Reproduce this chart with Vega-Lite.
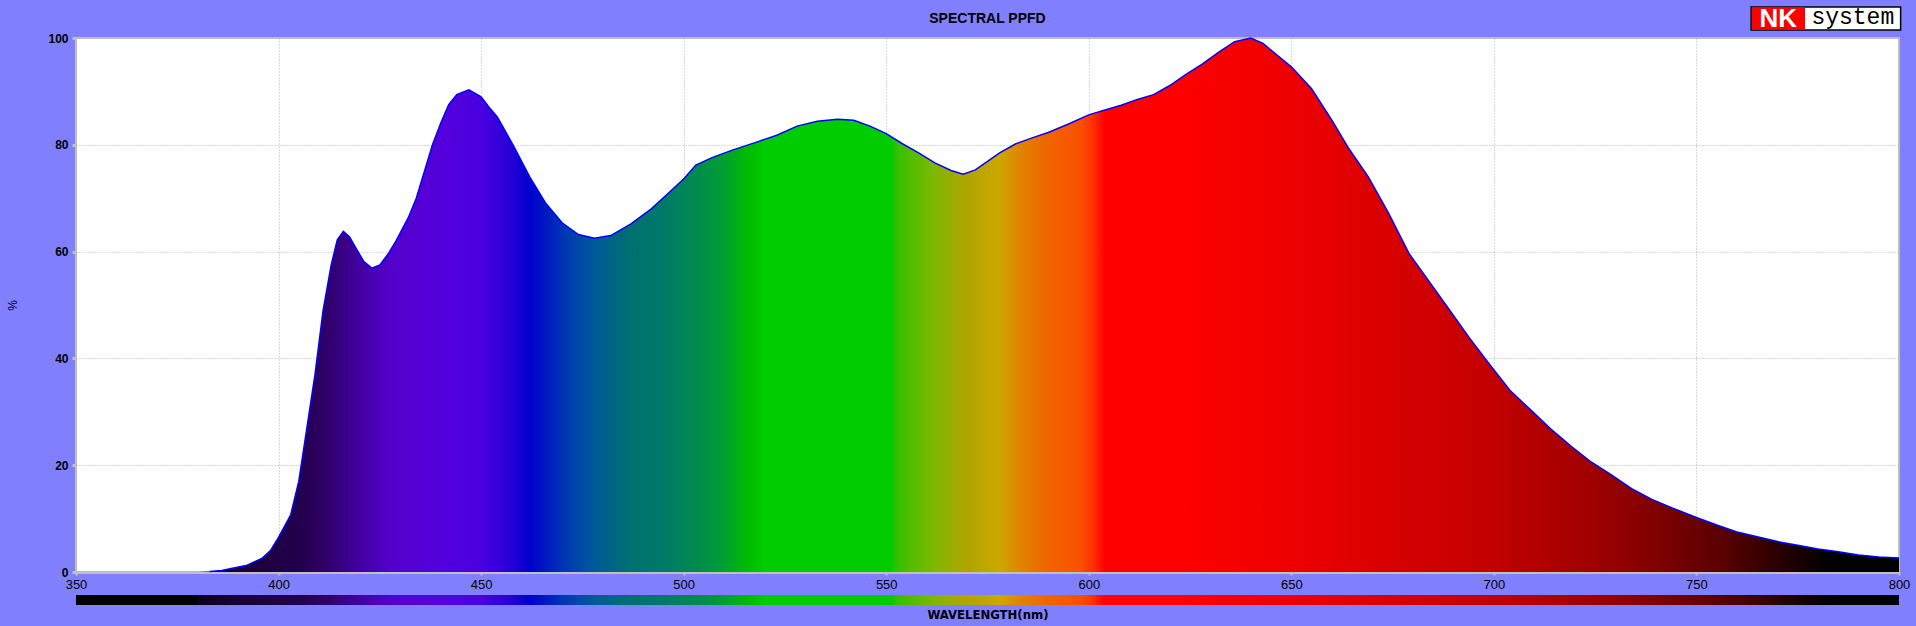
{
  "$schema": "https://vega.github.io/schema/vega-lite/v6.json",
  "background": "#8080ff",
  "padding": {"left": 5, "top": 4, "right": 6, "bottom": 4},
  "autosize": {"type": "pad"},
  "spacing": 2,
  "config": {"view": {"stroke": "#c0c0c0", "strokeWidth": 2, "fill": "#ffffff"}},
  "datasets": {
    "spectrum": [
      {"wl": 350, "pct": 0}, {"wl": 375, "pct": 0}, {"wl": 380, "pct": 0}, {"wl": 383, "pct": 0.1},
      {"wl": 386, "pct": 0.3}, {"wl": 388, "pct": 0.6}, {"wl": 392, "pct": 1.2}, {"wl": 396, "pct": 2.6},
      {"wl": 398, "pct": 4}, {"wl": 400, "pct": 6.5}, {"wl": 403, "pct": 10.7}, {"wl": 405, "pct": 17},
      {"wl": 407, "pct": 27}, {"wl": 409, "pct": 37}, {"wl": 411, "pct": 49}, {"wl": 413, "pct": 57.5},
      {"wl": 414.5, "pct": 62.2}, {"wl": 416, "pct": 63.8}, {"wl": 417.5, "pct": 62.8}, {"wl": 419, "pct": 60.8},
      {"wl": 421, "pct": 58.2}, {"wl": 423, "pct": 56.9}, {"wl": 425, "pct": 57.5}, {"wl": 427, "pct": 59.5},
      {"wl": 429, "pct": 62}, {"wl": 432, "pct": 66.3}, {"wl": 434, "pct": 70}, {"wl": 436, "pct": 75},
      {"wl": 438, "pct": 80}, {"wl": 440, "pct": 84}, {"wl": 442, "pct": 87.5}, {"wl": 444, "pct": 89.4},
      {"wl": 447, "pct": 90.3}, {"wl": 450, "pct": 89}, {"wl": 452, "pct": 87}, {"wl": 454, "pct": 85.2},
      {"wl": 458, "pct": 79.8}, {"wl": 462, "pct": 74}, {"wl": 466, "pct": 69}, {"wl": 470, "pct": 65.4},
      {"wl": 474, "pct": 63.2}, {"wl": 478, "pct": 62.5}, {"wl": 482, "pct": 63}, {"wl": 487, "pct": 65.2},
      {"wl": 492, "pct": 68}, {"wl": 496, "pct": 70.8}, {"wl": 500, "pct": 73.6}, {"wl": 503, "pct": 76.2},
      {"wl": 507, "pct": 77.6}, {"wl": 512, "pct": 79}, {"wl": 518, "pct": 80.5}, {"wl": 523, "pct": 81.8},
      {"wl": 528, "pct": 83.5}, {"wl": 533, "pct": 84.4}, {"wl": 538, "pct": 84.8}, {"wl": 542, "pct": 84.6},
      {"wl": 546, "pct": 83.5}, {"wl": 550, "pct": 82.1}, {"wl": 554, "pct": 80.2}, {"wl": 558, "pct": 78.5},
      {"wl": 562, "pct": 76.6}, {"wl": 566, "pct": 75.2}, {"wl": 569, "pct": 74.5}, {"wl": 572, "pct": 75.3},
      {"wl": 575, "pct": 76.9}, {"wl": 578, "pct": 78.5}, {"wl": 582, "pct": 80.2}, {"wl": 586, "pct": 81.3},
      {"wl": 590, "pct": 82.3}, {"wl": 595, "pct": 83.9}, {"wl": 600, "pct": 85.6}, {"wl": 604, "pct": 86.5},
      {"wl": 608, "pct": 87.4}, {"wl": 612, "pct": 88.5}, {"wl": 616, "pct": 89.4}, {"wl": 620, "pct": 91.1},
      {"wl": 624, "pct": 93.2}, {"wl": 628, "pct": 95.1}, {"wl": 632, "pct": 97.3}, {"wl": 636, "pct": 99.3},
      {"wl": 640, "pct": 100}, {"wl": 643, "pct": 99}, {"wl": 646, "pct": 97.1}, {"wl": 650, "pct": 94.6},
      {"wl": 655, "pct": 90.5}, {"wl": 660, "pct": 84.6}, {"wl": 664, "pct": 79.5}, {"wl": 669, "pct": 74},
      {"wl": 674, "pct": 67.2}, {"wl": 679, "pct": 59.7}, {"wl": 684, "pct": 54.4}, {"wl": 689, "pct": 49.1},
      {"wl": 694, "pct": 43.8}, {"wl": 699, "pct": 38.8}, {"wl": 704, "pct": 34}, {"wl": 709, "pct": 30.4},
      {"wl": 714, "pct": 26.8}, {"wl": 719, "pct": 23.6}, {"wl": 724, "pct": 20.6}, {"wl": 729, "pct": 18.2},
      {"wl": 734, "pct": 15.6}, {"wl": 739, "pct": 13.6}, {"wl": 744, "pct": 12}, {"wl": 750, "pct": 10.2},
      {"wl": 755, "pct": 8.8}, {"wl": 760, "pct": 7.5}, {"wl": 765, "pct": 6.6}, {"wl": 770, "pct": 5.7},
      {"wl": 775, "pct": 5}, {"wl": 780, "pct": 4.3}, {"wl": 785, "pct": 3.8}, {"wl": 790, "pct": 3.2},
      {"wl": 795, "pct": 2.8}, {"wl": 800, "pct": 2.6}
    ]
  },
  "vconcat": [
    {
      "width": 1823,
      "height": 534,
      "title": {"text": "SPECTRAL PPFD", "font": "Liberation Sans", "fontSize": 14, "fontWeight": "bold", "color": "#000000", "anchor": "middle", "frame": "group", "offset": 10, "dy": 30},
      "layer": [
        {
          "data": {"name": "spectrum"},
          "mark": {
            "type": "area",
            "interpolate": "linear",
            "fillOpacity": 1,
            "fill": {
              "gradient": "linear", "x1": 0, "y1": 0, "x2": 1, "y2": 0,
              "stops": [
                {"offset": 0, "color": "#000000"},
                {"offset": 0.0667, "color": "#050010"},
                {"offset": 0.0889, "color": "#1a0038"},
                {"offset": 0.1222, "color": "#22004c"},
                {"offset": 0.1378, "color": "#300068"},
                {"offset": 0.1556, "color": "#4200a0"},
                {"offset": 0.1733, "color": "#5400cc"},
                {"offset": 0.2, "color": "#5400dc"},
                {"offset": 0.2222, "color": "#4a00e0"},
                {"offset": 0.2378, "color": "#2800d8"},
                {"offset": 0.2489, "color": "#0000cc"},
                {"offset": 0.2667, "color": "#0034b4"},
                {"offset": 0.2844, "color": "#005a98"},
                {"offset": 0.3044, "color": "#007070"},
                {"offset": 0.3222, "color": "#007a68"},
                {"offset": 0.3422, "color": "#008c4c"},
                {"offset": 0.3556, "color": "#00a030"},
                {"offset": 0.3689, "color": "#00bc00"},
                {"offset": 0.3778, "color": "#00cc00"},
                {"offset": 0.4467, "color": "#00cc00"},
                {"offset": 0.4511, "color": "#38c000"},
                {"offset": 0.4711, "color": "#80b800"},
                {"offset": 0.4889, "color": "#b0a400"},
                {"offset": 0.5067, "color": "#cca800"},
                {"offset": 0.5178, "color": "#e08400"},
                {"offset": 0.5333, "color": "#f06400"},
                {"offset": 0.5511, "color": "#fa5000"},
                {"offset": 0.5578, "color": "#ff3000"},
                {"offset": 0.5644, "color": "#ff0000"},
                {"offset": 0.6, "color": "#ff0000"},
                {"offset": 0.6667, "color": "#ee0000"},
                {"offset": 0.7778, "color": "#c20000"},
                {"offset": 0.8311, "color": "#a00000"},
                {"offset": 0.8667, "color": "#800000"},
                {"offset": 0.9044, "color": "#580000"},
                {"offset": 0.94, "color": "#200000"},
                {"offset": 0.9622, "color": "#000000"},
                {"offset": 1, "color": "#000000"}
              ]
            }
          },
          "encoding": {
            "x": {
              "field": "wl", "type": "quantitative",
              "scale": {"domain": [350, 800], "nice": false, "zero": false},
              "axis": {
                "title": null, "values": [350, 400, 450, 500, 550, 600, 650, 700, 750, 800],
                "labelFont": "Liberation Sans", "labelFontSize": 13, "labelColor": "#000000", "labelFlush": false,
                "labelPadding": 3, "tickSize": 3, "tickWidth": 2, "tickColor": "#c0c0c0",
                "domain": true, "domainColor": "#c0c0c0", "domainWidth": 3,
                "grid": true, "gridColor": "#b0b0b0", "gridDash": [1, 2], "gridWidth": 1
              }
            },
            "y": {
              "field": "pct", "type": "quantitative",
              "scale": {"domain": [0, 100], "nice": false},
              "axis": {
                "title": "%", "titleFont": "Liberation Sans", "titleFontSize": 12, "titleFontWeight": "normal", "titleColor": "#000000",
                "titlePadding": 29, "minExtent": 28, "maxExtent": 28,
                "values": [0, 20, 40, 60, 80, 100],
                "labelFont": "Liberation Sans", "labelFontSize": 12, "labelFontWeight": "bold", "labelColor": "#000000",
                "labelPadding": 4, "tickSize": 4, "tickWidth": 3, "tickColor": "#c0c0c0",
                "domain": false,
                "grid": true, "gridColor": "#b0b0b0", "gridDash": [1, 2], "gridWidth": 1
              }
            }
          }
        },
        {
          "data": {"name": "spectrum"},
          "transform": [{"filter": "datum.wl >= 383"}],
          "mark": {"type": "line", "color": "#0000ff", "strokeWidth": 1.5, "interpolate": "linear"},
          "encoding": {
            "x": {"field": "wl", "type": "quantitative"},
            "y": {"field": "pct", "type": "quantitative"}
          }
        },
        {
          "data": {"values": [{}]},
          "mark": {"type": "rect", "fill": "#ffffff", "stroke": "#000000", "strokeWidth": 1.5},
          "encoding": {
            "x": {"datum": 763.5, "type": "quantitative"},
            "x2": {"datum": 800.4},
            "y": {"datum": 101.5, "type": "quantitative"},
            "y2": {"datum": 105.8}
          }
        },
        {
          "data": {"values": [{}]},
          "mark": {"type": "rect", "fill": "#ff0000"},
          "encoding": {
            "x": {"datum": 763.7, "type": "quantitative"},
            "x2": {"datum": 776.8},
            "y": {"datum": 101.6, "type": "quantitative"},
            "y2": {"datum": 105.7}
          }
        },
        {
          "data": {"values": [{}]},
          "mark": {"type": "text", "text": "NK", "font": "Liberation Sans", "fontSize": 26, "fontWeight": "bold", "color": "#ffffff", "align": "center", "baseline": "middle"},
          "encoding": {
            "x": {"datum": 770.2, "type": "quantitative"},
            "y": {"datum": 103.6, "type": "quantitative"}
          }
        },
        {
          "data": {"values": [{}]},
          "mark": {"type": "text", "text": "system", "font": "Liberation Mono", "fontSize": 23, "color": "#000000", "align": "center", "baseline": "middle"},
          "encoding": {
            "x": {"datum": 788.6, "type": "quantitative"},
            "y": {"datum": 104.0, "type": "quantitative"}
          }
        }
      ]
    },
    {
      "width": 1823,
      "height": 10,
      "view": {"stroke": "transparent", "fill": "transparent"},
      "data": {"values": [{}]},
      "mark": {
        "type": "rect",
        "fill": {
          "gradient": "linear", "x1": 0, "y1": 0, "x2": 1, "y2": 0,
          "stops": [
            {"offset": 0, "color": "#000000"},
            {"offset": 0.0655, "color": "#000000"},
            {"offset": 0.0667, "color": "#0a0018"},
            {"offset": 0.0889, "color": "#1a0038"},
            {"offset": 0.1222, "color": "#22004c"},
            {"offset": 0.1378, "color": "#300068"},
            {"offset": 0.1556, "color": "#4200a0"},
            {"offset": 0.1733, "color": "#5400cc"},
            {"offset": 0.2, "color": "#5400dc"},
            {"offset": 0.2222, "color": "#4a00e0"},
            {"offset": 0.2378, "color": "#2800d8"},
            {"offset": 0.2489, "color": "#0000cc"},
            {"offset": 0.2667, "color": "#0034b4"},
            {"offset": 0.2844, "color": "#005a98"},
            {"offset": 0.3044, "color": "#007070"},
            {"offset": 0.3222, "color": "#007a68"},
            {"offset": 0.3422, "color": "#008c4c"},
            {"offset": 0.3556, "color": "#00a030"},
            {"offset": 0.3689, "color": "#00bc00"},
            {"offset": 0.3778, "color": "#00cc00"},
            {"offset": 0.4467, "color": "#00cc00"},
            {"offset": 0.4511, "color": "#38c000"},
            {"offset": 0.4711, "color": "#80b800"},
            {"offset": 0.4889, "color": "#b0a400"},
            {"offset": 0.5067, "color": "#cca800"},
            {"offset": 0.5178, "color": "#e08400"},
            {"offset": 0.5333, "color": "#f06400"},
            {"offset": 0.5511, "color": "#fa5000"},
            {"offset": 0.5578, "color": "#ff3000"},
            {"offset": 0.5644, "color": "#ff0000"},
            {"offset": 0.6, "color": "#ff0000"},
            {"offset": 0.6667, "color": "#ee0000"},
            {"offset": 0.7778, "color": "#c20000"},
            {"offset": 0.8311, "color": "#a00000"},
            {"offset": 0.8667, "color": "#800000"},
            {"offset": 0.9044, "color": "#580000"},
            {"offset": 0.94, "color": "#200000"},
            {"offset": 0.9622, "color": "#000000"},
            {"offset": 1, "color": "#000000"}
          ]
        }
      },
      "encoding": {
        "x": {
          "datum": 350, "type": "quantitative",
          "scale": {"domain": [350, 800], "nice": false, "zero": false},
          "axis": {
            "title": "WAVELENGTH(nm)", "titleFont": "Liberation Sans Narrow, DejaVu Sans Condensed, sans-serif",
            "titleFontSize": 13, "titleFontWeight": "bold", "titleColor": "#000000", "titlePadding": 3,
            "labels": false, "ticks": false, "domain": false, "grid": false
          }
        },
        "x2": {"datum": 800}
      }
    }
  ]
}
